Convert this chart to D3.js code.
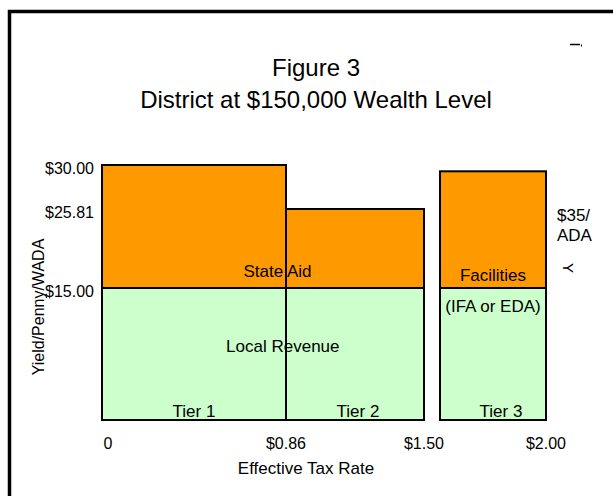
<!DOCTYPE html>
<html>
<head>
<meta charset="utf-8">
<script src="https://cdn.jsdelivr.net/npm/d3@7"></script>
<style>
  body { margin: 0; background: #fff; }
  text { font-family: "Liberation Sans", Arial, sans-serif; fill: #000; }
</style>
</head>
<body>
<div id="chart"></div>
<script>
// tiers of the funding formula
const tiers = ["Tier 1", "Tier 2", "Tier 3"]
const rateStart = [0, 0.86, 1.5]
const rateEnd = [0.86, 1.5, 2.0]
const localYield = [15, 15, 15]
const totalYield = [30, 25.81, 29.4]

const xTickValues = [0, 0.86, 1.5, 2.0]
const xTickLabels = ["0", "$0.86", "$1.50", "$2.00"]
const yTickValues = [15, 25.81, 30]

const W = 613, H = 496
const svg = d3.select('#chart').append('svg')
    .attr('width', W)
    .attr('height', H)

// outer frame (runs off the right and bottom edges)
svg.append('rect')
    .attr('x', 9.5).attr('y', 11.5)
    .attr('width', W).attr('height', H)
    .attr('fill', 'none')
    .attr('stroke', '#000')
    .attr('stroke-width', 3.5)

// schematic (not to scale) axes, so polylinear scales
const x = d3.scaleLinear().domain(xTickValues).range([102, 286, 424, 546])
const y = d3.scaleLinear().domain([0, 15, 25.81, 30]).range([420, 288, 209, 165])
const gap = 16 // tier 3 stands apart

const x0 = i => x(rateStart[i]) + (i === 2 ? gap : 0)
const x1 = i => x(rateEnd[i])

const segs = []
tiers.forEach((t, i) => {
  segs.push({ i, lo: 0, hi: localYield[i], fill: '#CCFFCC' })
  segs.push({ i, lo: localYield[i], hi: totalYield[i], fill: '#FF9900' })
})

svg.append('g').selectAll('rect')
  .data(segs)
  .enter().append('rect')
    .attr('x', d => x0(d.i))
    .attr('y', d => y(d.hi))
    .attr('width', d => x1(d.i) - x0(d.i))
    .attr('height', d => y(d.lo) - y(d.hi))
    .attr('fill', d => d.fill)
    .attr('stroke', '#000')
    .attr('stroke-width', 2)

// titles
svg.append('text').attr('x', 316).attr('y', 76)
    .attr('text-anchor', 'middle').attr('font-size', 24).text('Figure 3')
svg.append('text').attr('x', 316).attr('y', 108)
    .attr('text-anchor', 'middle').attr('font-size', 24).text('District at $150,000 Wealth Level')

// y axis
const yAxis = svg.append('g')
    .attr('transform', 'translate(102,0)')
    .call(d3.axisLeft(y).tickValues(yTickValues)
      .tickFormat(d => '$' + d.toFixed(2)).tickSize(0).tickPadding(8))
yAxis.select('.domain').remove()
yAxis.selectAll('text')
    .attr('font-size', 16)
    .attr('font-family', '"Liberation Sans", Arial, sans-serif')
    .attr('dy', '0.55em')

svg.append('text')
    .attr('transform', 'translate(44,307) rotate(-90)')
    .attr('text-anchor', 'middle').attr('font-size', 16)
    .text('Yield/Penny/WADA')

// x axis labels
svg.append('g').selectAll('text')
  .data(xTickValues)
  .enter().append('text')
    .attr('x', (d, i) => x(d) + (i === 0 ? 6 : 0))
    .attr('y', 449)
    .attr('text-anchor', 'middle')
    .attr('font-size', 16)
    .text((d, i) => xTickLabels[i])

svg.append('text').attr('x', 306).attr('y', 474)
    .attr('text-anchor', 'middle').attr('font-size', 17).text('Effective Tax Rate')

// tier labels
svg.append('g').selectAll('text')
  .data(tiers)
  .enter().append('text')
    .attr('x', (d, i) => (x0(i) + x1(i)) / 2 + (i === 2 ? 8 : i === 1 ? 3 : 0))
    .attr('y', y(0) - 3)
    .attr('text-anchor', 'middle')
    .attr('font-size', 17)
    .text(d => d)

// area labels
const notes = [
  { text: 'State Aid', rate: 0.82, v: 16.5 },
  { text: 'Local Revenue', rate: 0.845, v: 7.7 }
]
svg.append('g').selectAll('text')
  .data(notes)
  .enter().append('text')
    .attr('x', d => x(d.rate))
    .attr('y', d => y(d.v))
    .attr('text-anchor', 'middle')
    .attr('font-size', 17)
    .text(d => d.text)

const cx3 = (x0(2) + x1(2)) / 2
svg.append('text').attr('x', cx3).attr('y', y(15) - 7)
    .attr('text-anchor', 'middle').attr('font-size', 17).text('Facilities')
svg.append('text').attr('x', cx3).attr('y', y(15) + 24)
    .attr('text-anchor', 'middle').attr('font-size', 17).text('(IFA or EDA)')

// right side notes
svg.append('text').attr('x', 557).attr('y', 221).attr('font-size', 17).text('$35/')
svg.append('text').attr('x', 557).attr('y', 241).attr('font-size', 17).text('ADA')
svg.append('text')
    .attr('transform', 'translate(563,268) rotate(90)')
    .attr('text-anchor', 'middle').attr('font-size', 15).text('Y')

// stray mark at top right
svg.append('line')
    .attr('x1', 570).attr('x2', 580).attr('y1', 44.5).attr('y2', 44.5)
    .attr('stroke', '#000').attr('stroke-width', 1.5)
svg.append('rect').attr('x', 581).attr('y', 44.5).attr('width', 1).attr('height', 2).attr('fill', '#000')
</script>
</body>
</html>
